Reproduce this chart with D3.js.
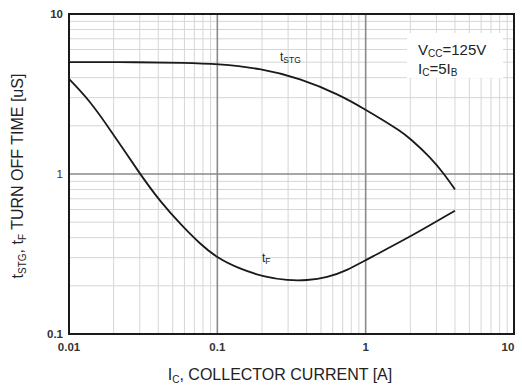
<!DOCTYPE html>
<html><head><meta charset="utf-8">
<script src="https://cdn.jsdelivr.net/npm/d3@7/dist/d3.min.js"></script>
<style>body{margin:0;background:#fff;}svg{display:block;font-family:"Liberation Sans",Arial,sans-serif;}</style>
</head><body>
<svg id="c" width="522" height="389"></svg>
<script>
const xTicks = [0.01, 0.1, 1, 10];
const xTickLabels = ["0.01", "0.1", "1", "10"];
const yTicks = [0.1, 1, 10];
const yTickLabels = ["0.1", "1", "10"];

const tstgX = [0.01, 0.03, 0.06, 0.1, 0.194, 0.361, 0.671, 1.0, 1.25, 1.71, 1.99, 2.72, 3.43, 4.0];
const tstgY = [5.0, 5.0, 4.96, 4.88, 4.58, 3.96, 3.12, 2.52, 2.23, 1.86, 1.67, 1.28, 0.985, 0.80];

const tfX = [0.01, 0.0139, 0.0189, 0.0301, 0.041, 0.058, 0.0764, 0.1, 0.142, 0.204, 0.3, 0.4, 0.55, 0.75, 1.0, 2.0, 4.0];
const tfY = [3.93, 2.85, 1.9, 1.0, 0.675, 0.472, 0.366, 0.298, 0.255, 0.228, 0.216, 0.216, 0.225, 0.25, 0.29, 0.405, 0.59];

const svg = d3.select("#c");
const L = 69, R = 514, T = 14, B = 334;
const x = d3.scaleLog().domain([0.01, 10]).range([L, R]);
const y = d3.scaleLog().domain([0.1, 10]).range([B, T]);

// minor grid
const minorX = [], minorY = [];
for (let d = 0.01; d < 10; d *= 10) for (let k = 2; k <= 9; k++) minorX.push(d * k);
for (let d = 0.1; d < 10; d *= 10) for (let k = 2; k <= 9; k++) minorY.push(d * k);
const g = svg.append("g");
g.selectAll(".mx").data(minorX).enter().append("line")
  .attr("x1", d => x(d)).attr("x2", d => x(d)).attr("y1", T).attr("y2", B)
  .attr("stroke", "#d6d6d6").attr("stroke-width", 1);
g.selectAll(".my").data(minorY).enter().append("line")
  .attr("y1", d => y(d)).attr("y2", d => y(d)).attr("x1", L).attr("x2", R)
  .attr("stroke", "#d6d6d6").attr("stroke-width", 1);
// major grid
g.selectAll(".Mx").data([0.1, 1]).enter().append("line")
  .attr("x1", d => x(d)).attr("x2", d => x(d)).attr("y1", T).attr("y2", B)
  .attr("stroke", "#8a8a8a").attr("stroke-width", 1.6);
g.selectAll(".My").data([1]).enter().append("line")
  .attr("y1", d => y(d)).attr("y2", d => y(d)).attr("x1", L).attr("x2", R)
  .attr("stroke", "#8a8a8a").attr("stroke-width", 1.6);

// annotation box background
svg.append("rect").attr("x", 407).attr("y", 33).attr("width", 96).attr("height", 45).attr("fill", "#fff");

// frame
svg.append("rect").attr("x", L).attr("y", T).attr("width", R - L).attr("height", B - T)
  .attr("fill", "none").attr("stroke", "#1a1a1a").attr("stroke-width", 2);

// curves
const line = d3.line().x(d => x(d[0])).y(d => y(d[1])).curve(d3.curveBasis);
svg.append("path").attr("d", line(tstgX.map((v, i) => [v, tstgY[i]])))
  .attr("fill", "none").attr("stroke", "#1a1a1a").attr("stroke-width", 1.8);
svg.append("path").attr("d", line(tfX.map((v, i) => [v, tfY[i]])))
  .attr("fill", "none").attr("stroke", "#1a1a1a").attr("stroke-width", 1.8);

// tick labels
svg.selectAll(".xt").data(xTicks).enter().append("text")
  .attr("x", (d, i) => i === 3 ? x(d) - 6 : x(d)).attr("y", B + 17)
  .attr("text-anchor", "middle").attr("font-size", 11.5).attr("font-weight", "bold").attr("fill", "#333")
  .text((d, i) => xTickLabels[i]);
svg.selectAll(".yt").data(yTicks).enter().append("text")
  .attr("x", L - 6).attr("y", d => y(d) + 4)
  .attr("text-anchor", "end").attr("font-size", 11.5).attr("font-weight", (d, i) => i === 1 ? "normal" : "bold").attr("fill", "#333")
  .text((d, i) => yTickLabels[i]);

// curve labels
const t1 = svg.append("text").attr("x", 280).attr("y", 61).attr("font-size", 12).attr("fill", "#222");
t1.append("tspan").text("t");
t1.append("tspan").attr("font-size", 8.5).attr("dy", 2).text("STG");
const t2 = svg.append("text").attr("x", 262).attr("y", 262).attr("font-size", 12).attr("fill", "#222");
t2.append("tspan").text("t");
t2.append("tspan").attr("font-size", 8.5).attr("dy", 2).text("F");

// annotation
const a1 = svg.append("text").attr("x", 418).attr("y", 55).attr("font-size", 15).attr("fill", "#222");
a1.append("tspan").text("V");
a1.append("tspan").attr("font-size", 10).attr("dy", 2).text("CC");
a1.append("tspan").attr("dy", -2).text("=125V");
const a2 = svg.append("text").attr("x", 418).attr("y", 74).attr("font-size", 15).attr("fill", "#222");
a2.append("tspan").text("I");
a2.append("tspan").attr("font-size", 10).attr("dy", 2).text("C");
a2.append("tspan").attr("dy", -2).text("=5I");
a2.append("tspan").attr("font-size", 10).attr("dy", 2).text("B");

// axis titles
const xt = svg.append("text").attr("x", 280).attr("y", 380).attr("text-anchor", "middle").attr("font-size", 16).attr("fill", "#222");
xt.append("tspan").text("I");
xt.append("tspan").attr("font-size", 10).attr("dy", 3).text("C");
xt.append("tspan").attr("dy", -3).text(", COLLECTOR CURRENT [A]");

const yt = svg.append("text").attr("transform", "translate(23,176) rotate(-90)").attr("text-anchor", "middle").attr("font-size", 16).attr("fill", "#222");
yt.append("tspan").text("t");
yt.append("tspan").attr("font-size", 10).attr("dy", 3).text("STG");
yt.append("tspan").attr("dy", -3).text(", t");
yt.append("tspan").attr("font-size", 10).attr("dy", 3).text("F");
yt.append("tspan").attr("dy", -3).text(" TURN OFF TIME [uS]");
</script>
</body></html>
